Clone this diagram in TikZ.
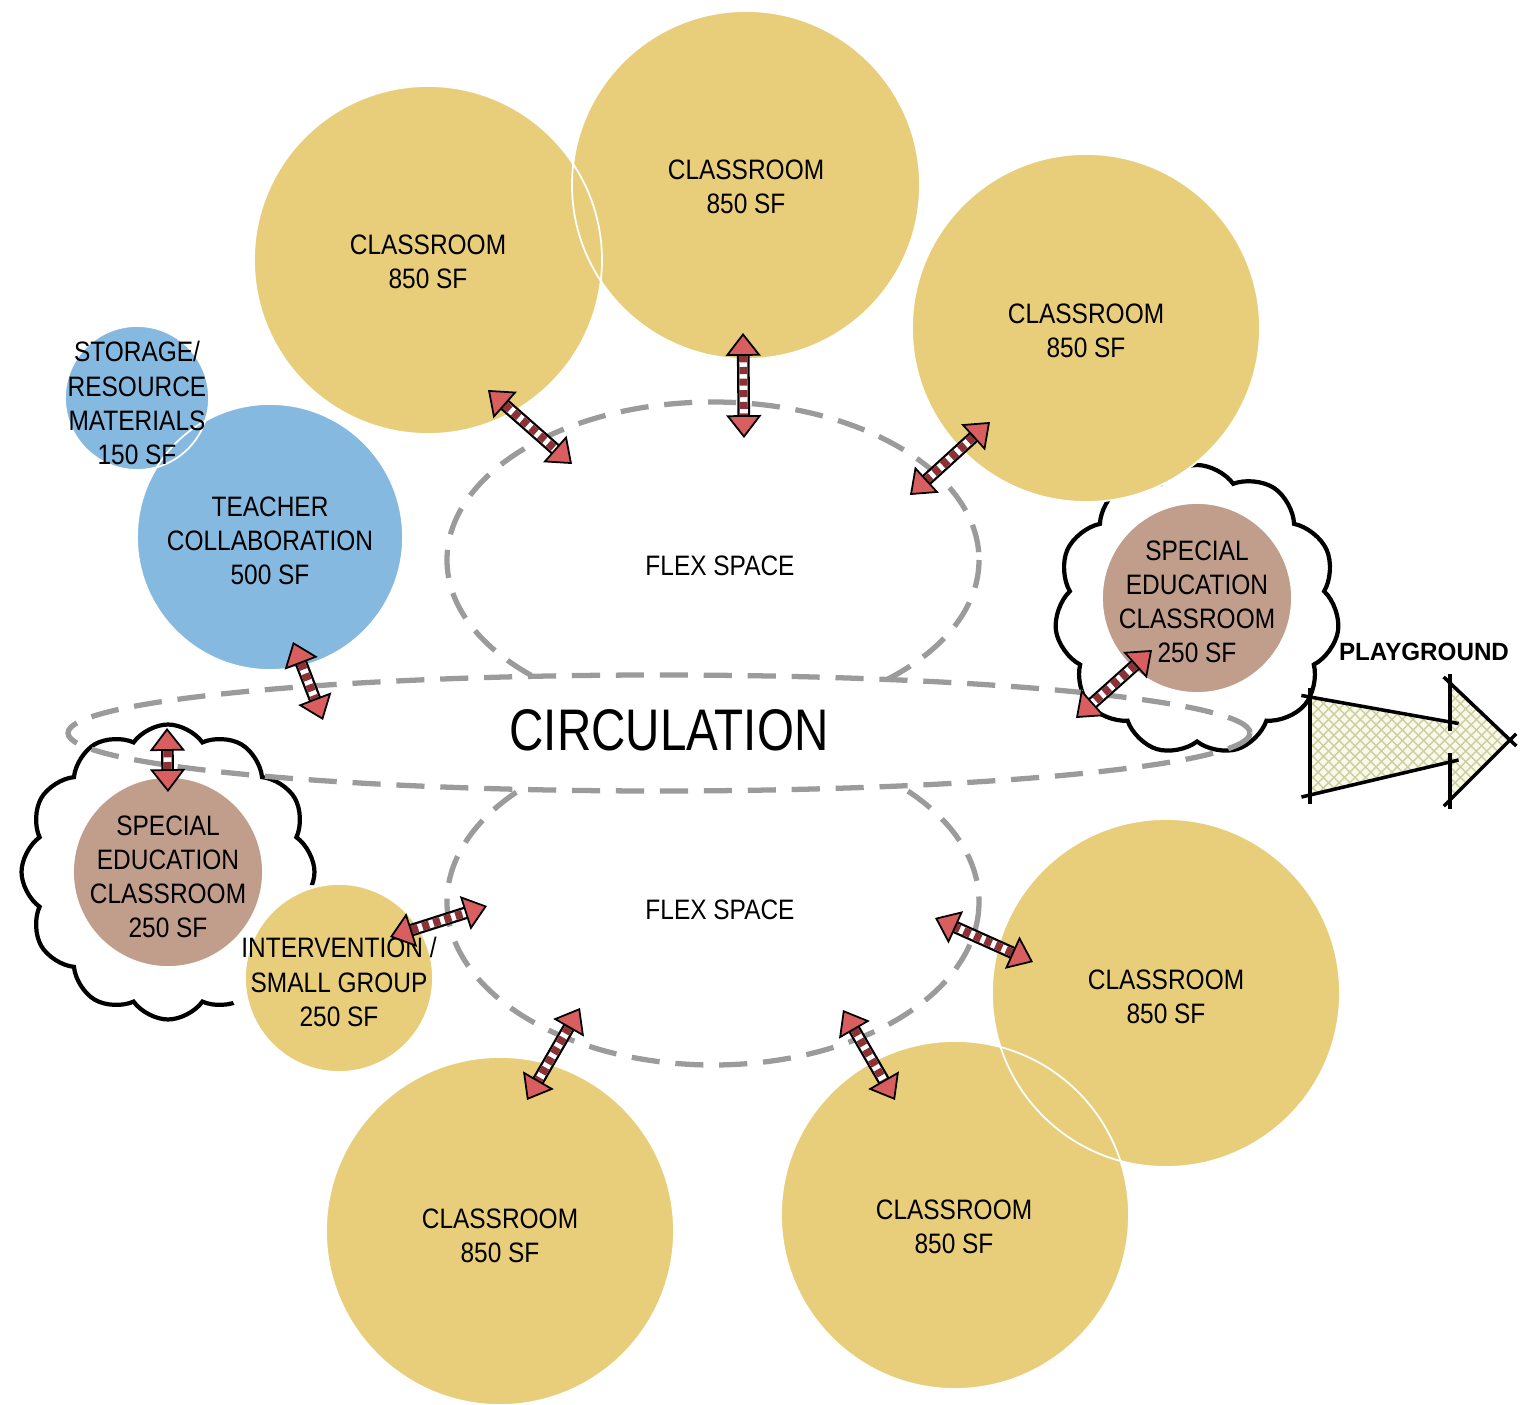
\documentclass[tikz,border=0pt]{standalone}
\usepackage{fontspec}
\setmainfont{Liberation Sans}[FakeStretch=0.87]
\newfontfamily\circfont{Liberation Sans}[FakeStretch=0.81]
\newfontfamily\playfont{Liberation Sans}[FakeStretch=0.97]
\usetikzlibrary{shapes.symbols,arrows.meta,patterns}

\definecolor{roomyellow}{RGB}{232,206,123}
\definecolor{staffblue}{RGB}{134,185,224}
\definecolor{spedbrown}{RGB}{193,158,139}
\definecolor{dashgray}{RGB}{155,155,155}
\definecolor{headred}{RGB}{216,94,96}
\definecolor{shaftred}{RGB}{140,50,55}
\definecolor{hatchbg}{RGB}{249,249,234}
\definecolor{hatchline}{RGB}{205,205,160}

\tikzstyle{room}=[circle,fill=roomyellow,inner sep=0pt,minimum size=34.8mm]
\tikzstyle{smallroom}=[circle,fill=roomyellow,inner sep=0pt,minimum size=18.8mm]
\tikzstyle{staff}=[circle,fill=staffblue,inner sep=0pt]
\tikzstyle{sped}=[circle,fill=spedbrown,inner sep=0pt,minimum size=19mm]
\tikzstyle{rim}=[draw=white,line width=0.5pt]
\tikzstyle{lbl}=[align=center,inner sep=0pt,font=\fontsize{8}{9.7}\selectfont]
\tikzstyle{puff}=[cloud,draw=black,line width=1.2pt,cloud puffs=11,cloud puff arc=110,aspect=1,inner sep=0pt]
\tikzstyle{zone}=[draw=dashgray,line width=1.5pt,dash pattern=on 8pt off 4.5pt]
\tikzset{
  link/.style={draw=shaftred,line width=2.3pt,dash pattern=on 2pt off 1.3pt,
    {Triangle[width=10pt,length=6.5pt,fill=headred,color=black,line width=0.5pt]}-{Triangle[width=10pt,length=6.5pt,fill=headred,color=black,line width=0.5pt]},
    preaction={draw=black,line width=3.6pt,solid,shorten <=4pt,shorten >=4pt,-},
    preaction={draw=white,line width=2.3pt,solid,shorten <=4pt,shorten >=4pt,-}}
}

\begin{document}
\begin{tikzpicture}[x=0.1mm,y=-0.1mm]
\useasboundingbox (0,0) rectangle (1522,1405);

% clouds round the special education rooms
\node[puff,minimum width=28.5mm,minimum height=29mm] (cloudR) at (1197,610) {};
\begin{scope}
\clip (168,872) -- (531,905) -- (531,500) -- (-200,500) -- (-200,1300) -- (330,1196) -- cycle;
\node[puff,cloud puffs=12,minimum width=29.3mm,minimum height=29.5mm] (cloudL) at (168,872) {};
\end{scope}

% rooms
\node[room] (cr1) at (428,260) {};
\node[room] (cr2) at (746,185) {};
\node[room] (cr3) at (1086,328) {};
\node[staff,minimum size=14.4mm] (store) at (137,398) {};
\node[staff,minimum size=26.6mm] (teach) at (270,537) {};
\node[sped] (spR) at (1197,598) {};
\node[sped] (spL) at (168,872) {};
\node[smallroom] (interv) at (339,978) {};
\node[room] (cr4) at (1166,993) {};
\node[room] (cr5) at (955,1215) {};
\node[room] (cr6) at (500,1231) {};
\foreach \n/\r in {cr1/174,cr2/174,cr3/174,store/72,teach/133,spR/95,spL/95,interv/94,cr4/174,cr5/174,cr6/174}
  \draw[rim] (\n.center) circle[radius=\r];

% labels
\node[lbl] (t1) at (428,262) {CLASSROOM\\850 SF};
\node[lbl] (t2) at (746,187) {CLASSROOM\\850 SF};
\node[lbl] (t3) at (1086,331) {CLASSROOM\\850 SF};
\node[lbl] (t4) at (137,403) {STORAGE/\\RESOURCE\\MATERIALS\\150 SF};
\node[lbl] (t5) at (270,541) {TEACHER\\COLLABORATION\\500 SF};
\node[lbl] (t6) at (1197,602) {SPECIAL\\EDUCATION\\CLASSROOM\\250 SF};
\node[lbl] (t7) at (168,877) {SPECIAL\\EDUCATION\\CLASSROOM\\250 SF};
\node[lbl] (t8) at (339,982) {INTERVENTION /\\SMALL GROUP\\250 SF};
\node[lbl] (t9) at (1166,997) {CLASSROOM\\850 SF};
\node[lbl] (t10) at (954,1227) {CLASSROOM\\850 SF};
\node[lbl] (t11) at (500,1236) {CLASSROOM\\850 SF};

% circulation and flex spaces
\coordinate (circ) at (659,733);
\draw[zone] (circ) ellipse[x radius=591,y radius=58];
\begin{scope}[even odd rule]
\clip (-10,-10) rectangle (1532,1415) (circ) ellipse[x radius=591,y radius=58];
\draw[zone] (713,560) ellipse[x radius=266,y radius=158];
\draw[zone] (713,902) ellipse[x radius=266,y radius=163];
\end{scope}
\node[lbl] (flex1) at (720,566) {FLEX SPACE};
\node[lbl] (flex2) at (720,910) {FLEX SPACE};
\node[inner sep=0pt,font=\circfont\fontsize{16.7}{20}\selectfont] (circlbl) at (669,730) {CIRCULATION};

% links
\coordinate (a1) at (488,390); \coordinate (b1) at (572,464);
\coordinate (a2) at (743,333); \coordinate (b2) at (744,438);
\coordinate (a3) at (990,422); \coordinate (b3) at (910,495);
\coordinate (a4) at (293,642); \coordinate (b4) at (323,720);
\coordinate (a5) at (1152,650); \coordinate (b5) at (1076,718);
\coordinate (a6) at (167,728); \coordinate (b6) at (168,792);
\coordinate (a7) at (390,937); \coordinate (b7) at (487,906);
\coordinate (a8) at (580,1008); \coordinate (b8) at (527,1100);
\coordinate (a9) at (843,1010); \coordinate (b9) at (895,1100);
\coordinate (a10) at (1033,962); \coordinate (b10) at (935,918);
\foreach \i in {1,...,10}
  \draw[link] (a\i) -- (b\i);

% playground
\coordinate (p1) at (1310,697);
\coordinate (p2) at (1450,722);
\coordinate (p3) at (1450,683);
\coordinate (p4) at (1510,740);
\coordinate (p5) at (1450,800);
\coordinate (p6) at (1450,762);
\coordinate (p7) at (1310,795);
\path[fill=hatchbg,postaction={pattern=crosshatch,pattern color=hatchline}] (p1) -- (p2) -- (p3) -- (p4) -- (p5) -- (p6) -- (p7) -- cycle;
\foreach \a/\b in {p1/p2,p2/p3,p3/p4,p4/p5,p5/p6,p6/p7,p7/p1}
  \draw[line width=1pt,shorten <=-2.5pt,shorten >=-2.5pt] (\a) -- (\b);
\node[inner sep=0pt,font=\playfont\bfseries\fontsize{7.1}{9}\selectfont] (play) at (1424,652) {PLAYGROUND};
\end{tikzpicture}
\end{document}
